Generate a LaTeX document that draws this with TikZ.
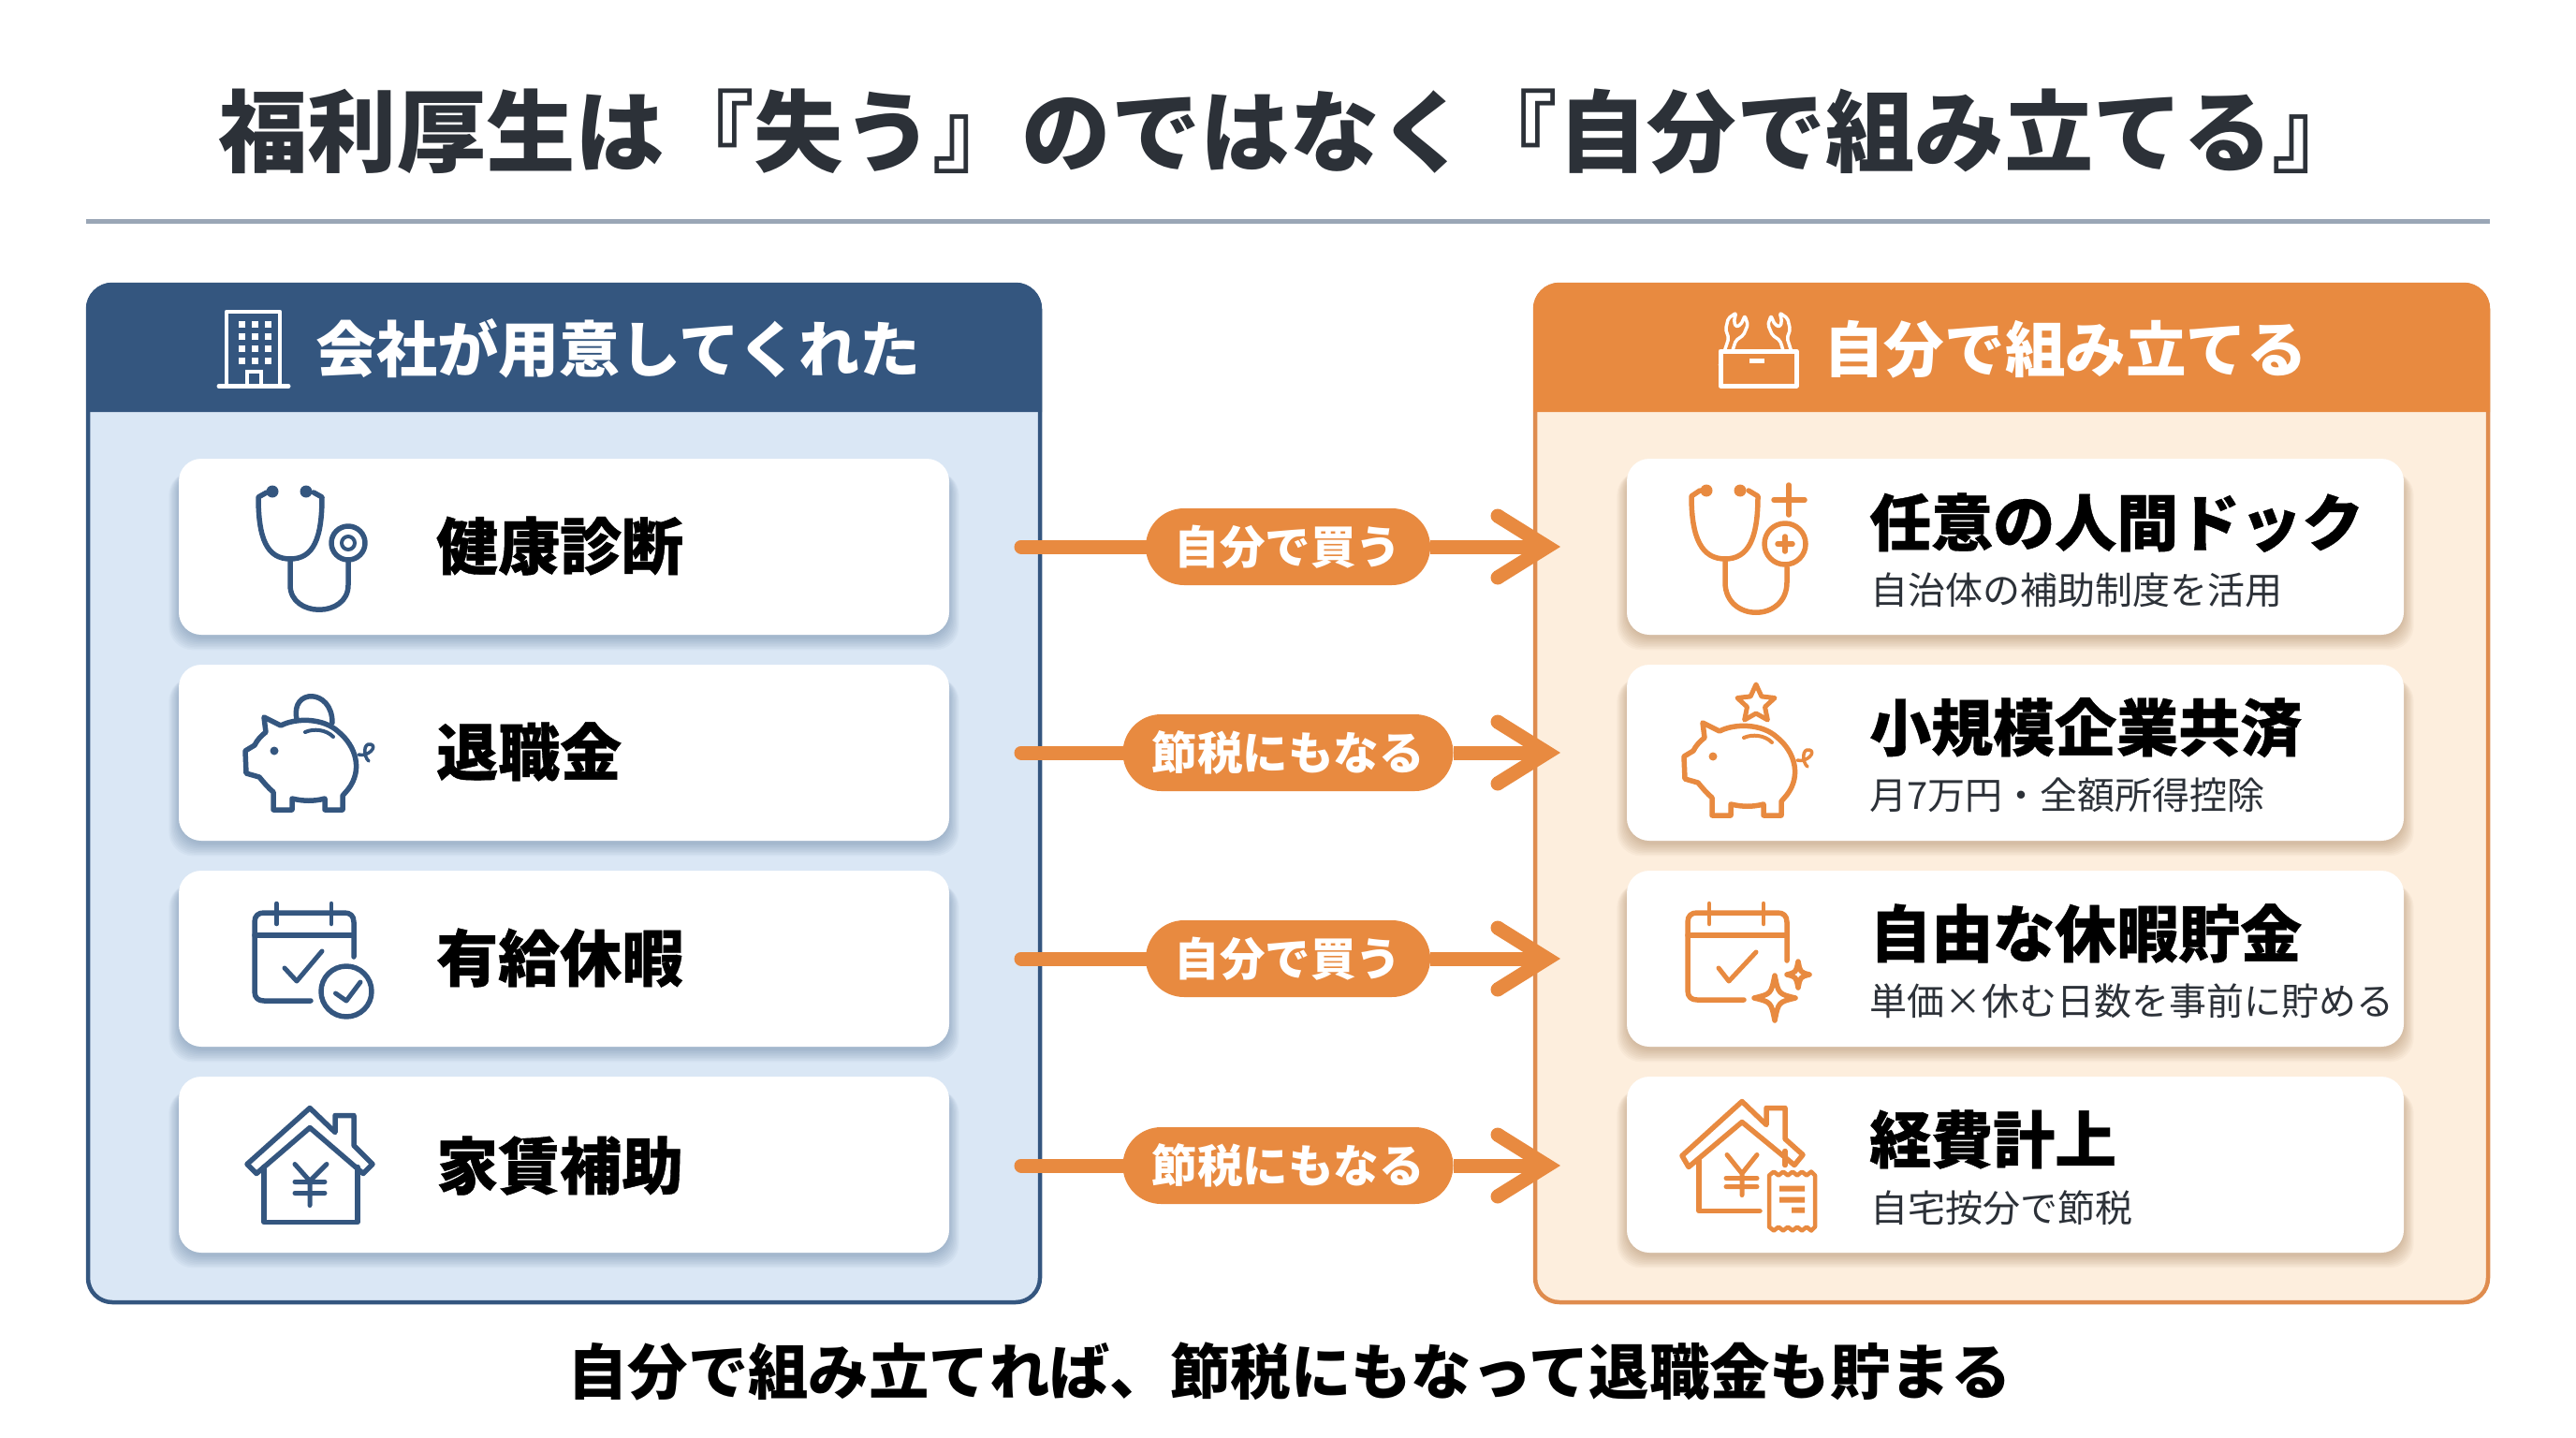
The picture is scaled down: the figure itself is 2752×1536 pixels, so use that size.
\documentclass[tikz,border=0pt]{standalone}
\usepackage{fontspec}
\setmainfont{Noto Sans CJK JP}[BoldFeatures={}]
\newfontfamily\heavyjp{Noto Sans CJK JP}[BoldFeatures={FakeBold=0.6}]
\usetikzlibrary{arrows.meta,shapes.geometric}
\definecolor{navy}{HTML}{34567F}
\definecolor{orng}{HTML}{E88A40}
\definecolor{orngb}{HTML}{DF8C4E}
\definecolor{lblue}{HTML}{DAE7F5}
\definecolor{lorng}{HTML}{FDEEDD}
\definecolor{ink}{HTML}{2C3138}
\definecolor{rulec}{HTML}{9AA6B6}
\newcommand\fsz[1]{\fontsize{#1}{#1}\selectfont\bfseries}
\newcommand\fsh[1]{\heavyjp\fontsize{#1}{#1}\selectfont\bfseries}
\newcommand\fsr[1]{\fontsize{#1}{#1}\selectfont}
\tikzset{
  lbl/.style={inner sep=0pt,anchor=base west},
  lblc/.style={inner sep=0pt,anchor=base},
  cardbox/.style={fill=white,rounded corners=24pt,minimum width=#1,minimum height=188pt,inner sep=0pt},
  pill/.style={fill=orng,rounded corners=41pt,minimum height=82pt,inner sep=0pt,text=white},
  conn/.style={draw=orng,line width=15pt},
  icon/.style={line width=5.5pt,line cap=round,line join=round},
}
\newcommand\cardrow[6]{%
  \foreach \k in {1,...,9}{
    \fill[#5,opacity=0.04,rounded corners=26pt]
      ({#2-#4/2-\k*1.3+1},{#3-94+\k*0.6+8}) rectangle ({#2+#4/2+\k*1.3-1},{#3+94+\k*1.6+2});
  }
  \node[cardbox=#4 pt] (#1) at (#2,#3) {};
}
\newcommand\piggy[1]{%
  \draw[icon,draw=#1] (282,766) -- (300,775) .. controls (315,767) and (345,766) .. (362,782)
    .. controls (380,797) and (388,822) .. (372,843) -- (366,850) -- (366,865) -- (347,865) -- (347,853)
    .. controls (335,856) and (325,856) .. (312,853) -- (312,865) -- (292,865) -- (292,846)
    .. controls (287,842) and (282,836) .. (277,830) -- (263,826) -- (262,802) -- (272,796)
    .. controls (275,790) and (279,786) .. (284,782) -- cycle;
  \draw[icon,draw=#1,line width=4pt] (326,782) .. controls (335,778) and (348,779) .. (356,787);
  \fill[#1] (293,802) circle (4.5);
  \draw[icon,draw=#1,line width=3.5pt] (383,806) .. controls (393,809) and (404,797) .. (396,795)
    .. controls (388,793) and (388,808) .. (394,813);
}
\newcommand\sparkle[5]{%
  \draw[icon,draw=#5,fill=white] ({#1},{#2-#4}) .. controls ({#1+0.18*#3},{#2-0.18*#4}) .. ({#1+#3},{#2})
    .. controls ({#1+0.18*#3},{#2+0.18*#4}) .. ({#1},{#2+#4})
    .. controls ({#1-0.18*#3},{#2+0.18*#4}) .. ({#1-#3},{#2})
    .. controls ({#1-0.18*#3},{#2-0.18*#4}) .. cycle;
}
\newcommand\wrench[3]{%
  \begin{scope}[shift={(#1,#2)},rotate=#3]
    \draw[white,line width=3.5pt,line join=round,fill=orng,rounded corners=2pt]
      (-4,42) -- (-4,11) -- (-10,3) -- (-11,-9) -- (-5,-17) -- (-4,-7) -- (0,-3) -- (4,-7) -- (5,-17) -- (11,-9) -- (10,3) -- (4,11) -- (4,42);
  \end{scope}
}
\begin{document}
\begin{tikzpicture}[x=1pt,y=-1pt]
\useasboundingbox (0,0) rectangle (2752,1536);
\fill[white] (0,0) rectangle (2752,1536);

% title
\node[lbl,text=ink,font=\fsz{95.4}] (title) at (233,176) {福利厚生は『失う』のではなく『自分で組み立てる』};
\coordinate (ruleL) at (92,236);
\coordinate (ruleR) at (2660,236);
\draw[rulec,line width=5pt] (ruleL) -- (ruleR);

% panels
\node[draw=navy,fill=lblue,line width=4.5pt,rounded corners=26pt,minimum width=1017pt,minimum height=1087pt,inner sep=0pt] (pl) at (602.5,847.5) {};
\node[draw=orngb,fill=lorng,line width=4.5pt,rounded corners=26pt,minimum width=1018pt,minimum height=1087pt,inner sep=0pt] (pr) at (2149,847.5) {};
\fill[navy] (92,440) [rounded corners=28pt] -- (92,302) -- (1113,302) [sharp corners] -- (1113,440) -- cycle;
\fill[orng] (1638,440) [rounded corners=28pt] -- (1638,302) -- (2660,302) [sharp corners] -- (2660,440) -- cycle;

% headers
\node[lbl,text=white,font=\fsz{65}] (hl) at (337,397) {会社が用意してくれた};
\node[lbl,text=white,font=\fsz{64.6}] (hr) at (1948,397) {自分で組み立てる};

% cards
\cardrow{l1}{602.5}{584}{823}{navy}{191}
\cardrow{l2}{602.5}{804}{823}{navy}{191}
\cardrow{l3}{602.5}{1024}{823}{navy}{191}
\cardrow{l4}{602.5}{1244}{823}{navy}{191}
\cardrow{r1}{2153}{584}{830}{brown!70!black}{1738}
\cardrow{r2}{2153}{804}{830}{brown!70!black}{1738}
\cardrow{r3}{2153}{1024}{830}{brown!70!black}{1738}
\cardrow{r4}{2153}{1244}{830}{brown!70!black}{1738}

% left texts
\node[lbl,font=\fsh{66}] (t1) at (466,608) {健康診断};
\node[lbl,font=\fsh{66}] (t2) at (466,828) {退職金};
\node[lbl,font=\fsh{66}] (t3) at (466,1048) {有給休暇};
\node[lbl,font=\fsh{66}] (t4) at (466,1270) {家賃補助};

% right texts
\node[lbl,font=\fsh{66}] (u1) at (1997,583) {任意の人間ドック};
\node[lbl,font=\fsr{40},text=ink] (v1) at (1998,645) {自治体の補助制度を活用};
\node[lbl,font=\fsh{66}] (u2) at (1997,802) {小規模企業共済};
\node[lbl,font=\fsr{40},text=ink] (v2) at (1997,864) {月7万円・全額所得控除};
\node[lbl,font=\fsh{66}] (u3) at (1997,1022) {自由な休暇貯金};
\node[lbl,font=\fsr{40},text=ink] (v3) at (1997,1084) {単価×休む日数を事前に貯める};
\node[lbl,font=\fsh{66}] (u4) at (1997,1242) {経費計上};
\node[lbl,font=\fsr{40},text=ink] (v4) at (1998,1305) {自宅按分で節税};

% connectors with pills
\foreach \n/\y/\w/\txt in {1/584/304/自分で買う,2/804/353/節税にもなる,3/1024/304/自分で買う,4/1245/353/節税にもなる}{
  \coordinate (s\n) at (1091,\y);
  \coordinate (e\n) at (1667,\y);
  \node[pill,minimum width=\w pt] (p\n) at (1376,\y) {};
  \node[lblc,text=white,font=\fsz{48.5}] (q\n) at (1376,\y+18) {\txt};
  \draw[conn,line cap=round] (s\n) -- (p\n.west);
  \draw[conn,-{Straight Barb[length=53pt,width=66pt]}] (p\n.east) -- (e\n);
  \fill[orng] (1600,\y-33) circle (7.5) (1600,\y+33) circle (7.5);
}

% === left icons ===
% building
\draw[white,line width=4.5pt,line join=round] (242,412) -- (242,333) -- (299,333) -- (299,412);
\draw[white,line width=5pt,line cap=round] (234,412.5) -- (308,412.5);
\foreach \yy in {346,359,372,385}{\foreach \xx in {258,272,286}{\fill[white] (\xx-3.5,\yy-3.5) rectangle (\xx+3.5,\yy+3.5);}}
\draw[white,line width=4pt] (264,412) -- (264,397) -- (279,397) -- (279,412);

% stethoscope
\draw[icon,draw=navy] (285,526) -- (276,531) .. controls (276,575) and (285,597) .. (310,597) .. controls (335,597) and (344,575) .. (344,531) -- (335,526);
\fill[navy] (291,525) circle (6.5) (327,525) circle (6.5);
\draw[icon,draw=navy] (310,597) -- (310,625) .. controls (310,660) and (372,660) .. (372,625) -- (372,598);
\draw[icon,draw=navy] (372,580) circle (18);
\draw[icon,draw=navy,line width=4pt] (372,580) circle (7);

% piggy
\draw[icon,draw=navy] (317,768) .. controls (310,735) and (355,735) .. (355,772);
\piggy{navy}

% calendar
\draw[icon,draw=navy] (378,1022) -- (378,985) .. controls (378,978) and (374,975) .. (368,975) -- (282,975) .. controls (276,975) and (272,978) .. (272,985) -- (272,1059) .. controls (272,1066) and (276,1069) .. (282,1069) -- (332,1069);
\draw[icon,draw=navy] (272,999) -- (378,999);
\draw[icon,draw=navy,line width=4.5pt] (295.5,965) -- (295.5,987) (354,965) -- (354,987);
\draw[icon,draw=navy,line width=5pt] (304,1034) -- (317,1048) -- (344,1016);
\draw[icon,draw=navy] (370,1059) circle (27);
\draw[icon,draw=navy,line width=5pt] (358.5,1061) -- (370,1069) -- (385,1049);

% house
\begin{scope}[shift={(0,1.5)}]
\draw[icon,draw=navy] (274,1252) -- (264,1242) -- (331,1182) -- (358,1208) -- (358,1190) -- (378,1190) -- (378,1222) -- (398,1242) -- (388,1252) -- (331,1203) -- cycle;
\draw[icon,draw=navy] (282,1245) -- (282,1304) -- (382,1304) -- (382,1245);
\draw[icon,draw=navy,line width=5pt] (315,1242) -- (331,1260) -- (349,1242) (331,1260) -- (331,1286) (315,1261) -- (347,1261) (315,1273) -- (347,1273);
\end{scope}

% === right icons ===
% toolbox
\wrench{1854}{352}{-18}
\wrench{1902}{352}{18}
\draw[white,line width=5pt,line join=round,fill=orng] (1838,375) rectangle (1919,412);
\fill[white] (1869,383) rectangle (1885,388);

% stethoscope +
\draw[icon,draw=orng] (1816,524) -- (1807,530) .. controls (1807,575) and (1818,597) .. (1843,597) .. controls (1868,597) and (1878,575) .. (1878,530) -- (1868,524);
\fill[orng] (1823,524) circle (6.5) (1859,524) circle (6.5);
\draw[icon,draw=orng] (1843,597) -- (1843,622) .. controls (1843,665) and (1909,665) .. (1909,622) -- (1909,606);
\draw[icon,draw=orng] (1907,581) circle (22);
\draw[icon,draw=orng] (1907,573) -- (1907,589) (1899,581) -- (1915,581);
\draw[icon,draw=orng] (1911,518) -- (1911,550) (1895,534) -- (1928,534);

% piggy + star
\begin{scope}[shift={(1537,6)}]
  \piggy{orng}
\end{scope}
\node[star,star points=5,star point ratio=2.1,draw=orng,line width=5pt,line join=round,minimum size=42pt,inner sep=0pt] (st) at (1876,752) {};

% calendar + sparkles
\draw[icon,draw=orng] (1909,1026) -- (1909,985) .. controls (1909,978) and (1905,975) .. (1899,975) -- (1813,975) .. controls (1807,975) and (1803,978) .. (1803,985) -- (1803,1058) .. controls (1803,1065) and (1807,1068) .. (1813,1068) -- (1863,1068);
\draw[icon,draw=orng] (1803,999) -- (1909,999);
\draw[icon,draw=orng,line width=4.5pt] (1826,965) -- (1826,987) (1884,965) -- (1884,987);
\draw[icon,draw=orng,line width=5pt] (1836,1034) -- (1847,1048) -- (1876,1017);
\sparkle{1896}{1066}{22}{24}{orng}
\sparkle{1921}{1041}{12}{14}{orng}

% house + receipt
\begin{scope}[shift={(0,1.5)}]
\draw[icon,draw=orng] (1804,1245) -- (1797,1233) -- (1861,1175) -- (1887,1200) -- (1887,1182) -- (1907,1182) -- (1907,1215) -- (1926,1232) -- (1917,1243) -- (1861,1197) -- cycle;
\draw[icon,draw=orng] (1815,1238) -- (1815,1292) -- (1880,1292);
\draw[icon,draw=orng] (1907,1228) -- (1907,1243);
\draw[icon,draw=orng,line width=5pt] (1845,1232) -- (1861,1252) -- (1877,1232) (1861,1252) -- (1861,1275) (1844,1257) -- (1877,1257) (1844,1266) -- (1877,1266);
\draw[icon,draw=orng,fill=white,line width=4.5pt] (1890,1254) -- (1895,1250) -- (1900,1254) -- (1905,1250) -- (1910,1254) -- (1915,1250) -- (1920,1254) -- (1925,1250) -- (1930,1254) -- (1935,1250) -- (1939,1254) -- (1939,1309) -- (1935,1313) -- (1930,1309) -- (1925,1313) -- (1920,1309) -- (1915,1313) -- (1910,1309) -- (1905,1313) -- (1900,1309) -- (1895,1313) -- (1890,1309) -- cycle;
\fill[orng] (1901,1265) rectangle (1928,1271) (1901,1277) rectangle (1928,1283) (1914,1288) rectangle (1928,1294);
\end{scope}

% bottom line
\node[lbl,text=black,font=\fsz{64.4}] (foot) at (606,1489) {自分で組み立てれば、節税にもなって退職金も貯まる};
\end{tikzpicture}
\end{document}
